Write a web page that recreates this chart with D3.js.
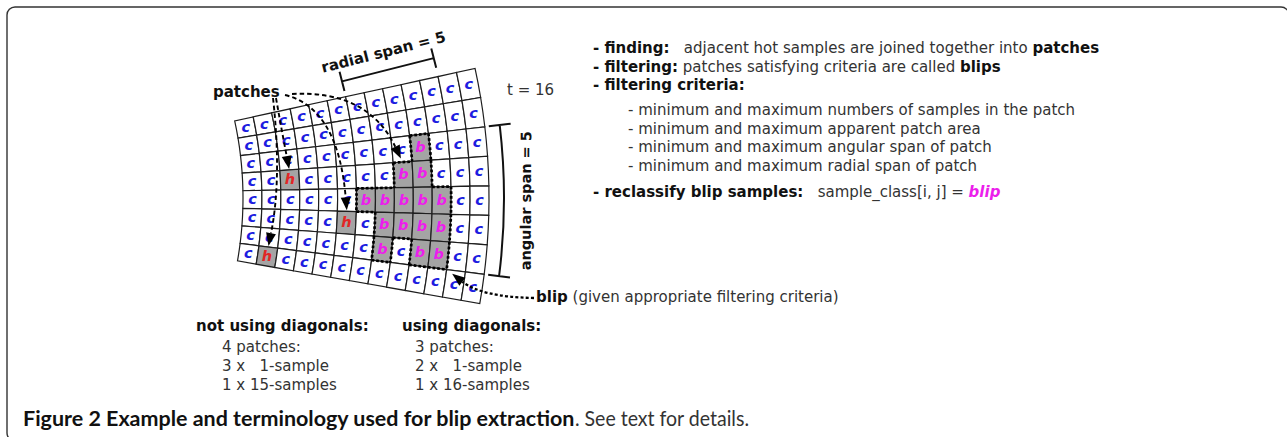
<!DOCTYPE html>
<html><head><meta charset="utf-8">
<script src="https://cdn.jsdelivr.net/npm/d3@7"></script>
<style>
html,body{margin:0;padding:0;background:#fff;}
svg{display:block;}
text{white-space:pre;}
</style></head><body>
<svg id="chart" width="1287" height="437"></svg>
<script>
// ---------------- data ----------------
// sample classes on the polar grid: rows = angular bins (top→bottom), cols = radial bins (near→far)
const sampleClass = [
  "ccccccccccccc",
  "ccccccccccccc",
  "cccccccccbccc",
  "cchcccccbbccc",
  "ccccccbbbbbcc",
  "ccccchcbbbbcc",
  "cccccccbcbbcc",
  "chccccccccccc"
];
const patchArrowTargets = [[3, 2], [7, 1], [5, 5], [3, 8]];   // [row, col]
const scanLabel = "t = 16";
const patchesLabel = "patches";
const radialSpanLabel = "radial span = 5";
const angularSpanLabel = "angular span = 5";
const blipNote = [["blip", "b"], [" (given appropriate filtering criteria)", "r"]];
const stepLines = [
  [["- finding:", "b"], ["   adjacent hot samples are joined together into ", "r"], ["patches", "b"]],
  [["- filtering:", "b"], [" patches satisfying criteria are called ", "r"], ["blips", "b"]],
  [["- filtering criteria:", "b"]]
];
const criteriaLines = [
  "- minimum and maximum numbers of samples in the patch",
  "- minimum and maximum apparent patch area",
  "- minimum and maximum angular span of patch",
  "- minimum and maximum radial span of patch"
];
const reclassLine = [["- reclassify blip samples:", "b"], ["   sample_class[i, j] = ", "r"], ["blip", "bi"]];
const notDiagHeading = "not using diagonals:";
const notDiagLines = ["4 patches:", "3 x   1-sample", "1 x 15-samples"];
const diagHeading = "using diagonals:";
const diagLines = ["3 patches:", "2 x   1-sample", "1 x 16-samples"];
const captionBold = "Figure 2 Example and terminology used for blip extraction";
const captionRest = ". See text for details.";

// ---------------- layout ----------------
const FONT = "'DejaVu Sans', sans-serif";
const svg = d3.select("#chart");
const deg = Math.PI / 180;
const cx = -119, cy = 198;
const nRows = sampleClass.length, nCols = sampleClass[0].length;
const rScale = d3.scaleLinear().domain([0, nCols]).range([362, 608]);
const aScale = d3.scaleLinear().domain([0, nRows]).range([-12.3 * deg, 10.0 * deg]);
const P = (r, a) => [cx + r * Math.cos(a), cy + r * Math.sin(a)];
const colors = { c: "#1d1de0", b: "#ec1eec", h: "#e22626" };

// frame
svg.append("rect").attr("x", 7).attr("y", 7).attr("width", 1282).attr("height", 434)
  .attr("rx", 8).attr("fill", "none").attr("stroke", "#333").attr("stroke-width", 1.4);

// cells
const cells = [];
sampleClass.forEach((row, r) => row.split("").forEach((k, c) => cells.push({ r, c, k })));
const g = svg.append("g").attr("transform", `translate(${cx},${cy})`);
const arc = d3.arc()
  .innerRadius(d => rScale(d.c)).outerRadius(d => rScale(d.c + 1))
  .startAngle(d => aScale(d.r) + Math.PI / 2).endAngle(d => aScale(d.r + 1) + Math.PI / 2);
g.selectAll("path.cell").data(cells).join("path").attr("class", "cell")
  .attr("d", arc)
  .attr("fill", d => d.k === "c" ? "#fff" : "#a4a4a4")
  .attr("stroke", "#1e1e1e").attr("stroke-width", 1.2);
g.selectAll("text.lab").data(cells).join("text").attr("class", "lab")
  .attr("x", d => rScale(d.c + 0.5) * Math.cos(aScale(d.r + 0.5)))
  .attr("y", d => rScale(d.c + 0.5) * Math.sin(aScale(d.r + 0.5)) + 4.5)
  .attr("text-anchor", "middle")
  .attr("font-family", FONT).attr("font-weight", "bold").attr("font-style", "italic")
  .attr("font-size", 14.5).attr("fill", d => colors[d.k]).text(d => d.k);

// blip outline (dotted) from cell adjacency
const isB = (r, c) => r >= 0 && r < nRows && c >= 0 && c < nCols && sampleClass[r][c] === "b";
const rel = (r, a) => [r * Math.cos(a), r * Math.sin(a)];
let segs = "";
cells.filter(d => d.k === "b").forEach(({ r, c }) => {
  const r0 = rScale(c), r1 = rScale(c + 1), a0 = aScale(r), a1 = aScale(r + 1);
  if (!isB(r - 1, c)) { const p = rel(r0, a0), q = rel(r1, a0); segs += `M${p}L${q}`; }
  if (!isB(r + 1, c)) { const p = rel(r0, a1), q = rel(r1, a1); segs += `M${p}L${q}`; }
  if (!isB(r, c - 1)) { const p = rel(r0, a0), q = rel(r0, a1); segs += `M${p}A${r0},${r0} 0 0 1 ${q}`; }
  if (!isB(r, c + 1)) { const p = rel(r1, a0), q = rel(r1, a1); segs += `M${p}A${r1},${r1} 0 0 1 ${q}`; }
});
g.append("path").attr("d", segs).attr("fill", "none").attr("stroke", "#000")
  .attr("stroke-width", 2.7).attr("stroke-dasharray", "2.7,2");

// blip extents
const bc = cells.filter(d => d.k === "b");
const minC = d3.min(bc, d => d.c), maxC = d3.max(bc, d => d.c);
const minR = d3.min(bc, d => d.r), maxR = d3.max(bc, d => d.r);

// arrows
function arrow(S, Q, T, dash, sw, back = 0) {
  let ux = T[0] - Q[0], uy = T[1] - Q[1]; const L = Math.hypot(ux, uy); ux /= L; uy /= L;
  const tip = [T[0] - ux * back, T[1] - uy * back];
  const len = 13, w = 5;
  const B = [tip[0] - ux * len, tip[1] - uy * len];
  svg.append("path").attr("d", `M${S}Q${Q} ${B}`).attr("fill", "none").attr("stroke", "#000")
    .attr("stroke-width", sw).attr("stroke-dasharray", dash);
  svg.append("path").attr("d", `M${tip}L${B[0] - uy * w},${B[1] + ux * w}L${B[0] + uy * w},${B[1] - ux * w}Z`)
    .attr("fill", "#000");
}
const arrowLayout = [
  { S: [276, 98], Q: [282, 132] },
  { S: [273, 98], Q: [282, 178] },
  { S: [285, 95], Q: [338, 108] },
  { S: [292, 94], Q: [368, 90] }
];
patchArrowTargets.forEach(([r, c], i) => {
  const T = P(rScale(c + 0.5), aScale(r));
  arrow(arrowLayout[i].S, arrowLayout[i].Q, T, "4.5,3", 1.9, i === 3 ? 4 : 1);
});
// blip arrow
arrow([534, 298], [482, 297], P(rScale(maxC + 1) + 6, aScale(maxR + 1) + 0.006), "3,2.2", 2.3, 0);

// patches label
svg.append("text").attr("x", 213).attr("y", 97).attr("font-family", FONT).attr("font-weight", "bold")
  .attr("font-size", 15).attr("fill", "#111").text(patchesLabel);
// t = 16
svg.append("text").attr("x", 507).attr("y", 95).attr("font-family", FONT)
  .attr("font-size", 15).attr("fill", "#333").text(scanLabel);

// radial span bracket
{
  const ab = aScale(0) - 1.9 * deg;
  const p0 = P(rScale(minC), ab), p1 = P(rScale(maxC + 1), ab);
  const t = [-Math.sin(ab), Math.cos(ab)];
  let d = `M${p0}L${p1}`;
  [p0, p1].forEach(p => { d += `M${p[0] - 10 * t[0]},${p[1] - 10 * t[1]}L${p[0] + 10 * t[0]},${p[1] + 10 * t[1]}`; });
  svg.append("path").attr("d", d).attr("fill", "none").attr("stroke", "#111").attr("stroke-width", 2);
  const m = P((rScale(minC) + rScale(maxC + 1)) / 2, ab);
  const tc = [m[0] - 18 * t[0], m[1] - 18 * t[1]];
  svg.append("text").attr("transform", `translate(${tc}) rotate(${ab / deg})`)
    .attr("text-anchor", "middle").attr("dominant-baseline", "central")
    .attr("font-family", FONT).attr("font-weight", "bold").attr("font-size", 15).attr("fill", "#111")
    .text(radialSpanLabel);
}
// angular span bracket
{
  const R = rScale(nCols) + 15;
  const a0 = aScale(minR), a1 = aScale(maxR + 1);
  const p0 = P(R, a0), p1 = P(R, a1);
  let d = `M${p0}A${R},${R} 0 0 1 ${p1}`;
  [a0, a1].forEach(a => { d += `M${P(R - 11, a)}L${P(R + 11, a)}`; });
  svg.append("path").attr("d", d).attr("fill", "none").attr("stroke", "#111").attr("stroke-width", 2);
  const am = (a0 + a1) / 2;
  const tc = P(R + 22, am);
  svg.append("text").attr("transform", `translate(${tc}) rotate(${-90 + am / deg})`)
    .attr("text-anchor", "middle").attr("dominant-baseline", "central")
    .attr("font-family", FONT).attr("font-weight", "bold").attr("font-size", 14.5).attr("fill", "#111")
    .text(angularSpanLabel);
}

// rich text helper
function rich(x, y, parts, size = 15) {
  const t = svg.append("text").attr("x", x).attr("y", y).attr("font-family", FONT).attr("font-size", size);
  parts.forEach(([s, st]) => {
    const ts = t.append("tspan").text(s);
    if (st === "b" || st === "bi") ts.attr("font-weight", "bold").attr("fill", "#111");
    else ts.attr("fill", "#333");
    if (st === "bi") ts.attr("font-style", "italic").attr("fill", colors.b);
  });
  return t;
}
const stepY = [53, 72, 90];
stepLines.forEach((parts, i) => rich(593, stepY[i], parts));
const critY = [115, 134, 152, 171];
criteriaLines.forEach((s, i) => rich(628, critY[i], [[s, "r"]]));
rich(593, 197, reclassLine);
rich(536, 302, blipNote);

// summary columns
rich(196, 331, [[notDiagHeading, "b"]]);
notDiagLines.forEach((s, i) => rich(222, 352 + i * 19, [[s, "r"]]));
rich(402, 331, [[diagHeading, "b"]]);
diagLines.forEach((s, i) => rich(415, 352 + i * 19, [[s, "r"]]));

// caption, sizes fitted to the reference widths
{
  const CF = "Lato, 'Open Sans', sans-serif";
  const probe = svg.append("text").attr("font-family", CF).attr("font-weight", "bold").attr("font-size", 20).text(captionBold);
  const w = probe.node().getComputedTextLength(); probe.remove();
  const size = 20 * 552 / w;
  svg.append("text").attr("x", 23).attr("y", 426).attr("font-family", CF).attr("font-size", size)
    .attr("font-weight", "bold").attr("fill", "#111").text(captionBold);
  svg.append("text").attr("x", 23 + 552).attr("y", 426).attr("font-family", CF).attr("font-size", size)
    .attr("fill", "#333").attr("textLength", 174).attr("lengthAdjust", "spacingAndGlyphs").text(captionRest);
}
</script>
</body></html>
